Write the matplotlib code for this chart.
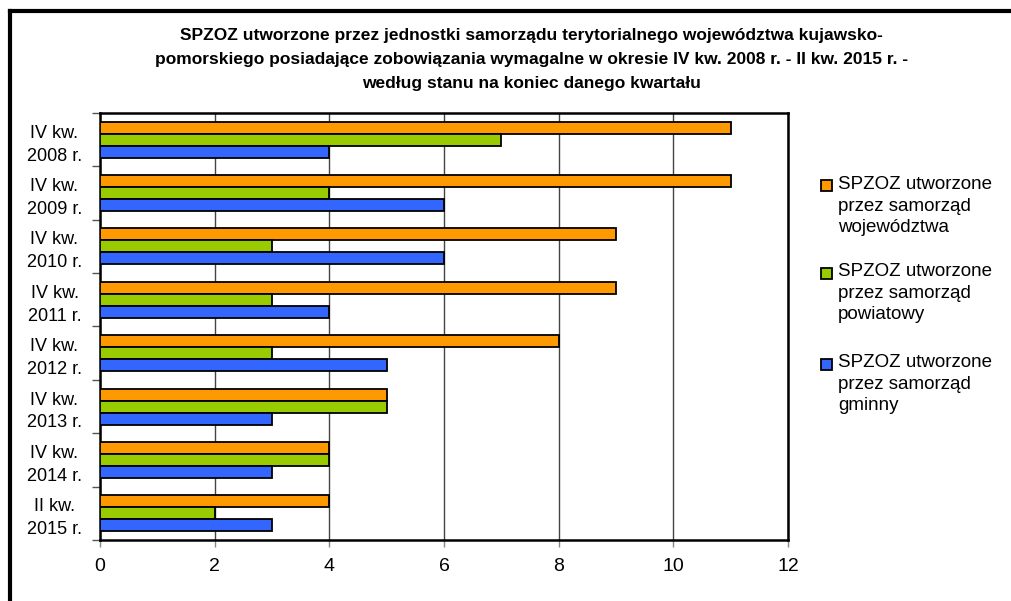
import numpy as np
import matplotlib.pyplot as plt
from matplotlib.lines import Line2D
from matplotlib.patches import Rectangle

periods = ['IV kw.\n2008 r.', 'IV kw.\n2009 r.', 'IV kw.\n2010 r.', 'IV kw.\n2011 r.',
           'IV kw.\n2012 r.', 'IV kw.\n2013 r.', 'IV kw.\n2014 r.', 'II kw.\n2015 r.']
wojewodztwo = [11, 11, 9, 9, 8, 5, 4, 4]
powiat = [7, 4, 3, 3, 3, 5, 4, 2]
gmina = [4, 6, 6, 4, 5, 3, 3, 3]
labels = ['SPZOZ utworzone\nprzez samorząd\nwojewództwa',
          'SPZOZ utworzone\nprzez samorząd\npowiatowy',
          'SPZOZ utworzone\nprzez samorząd\ngminny']
colors = ['#FF9900', '#99CC00', '#3366FF']

plt.rcParams['font.family'] = ['Liberation Sans', 'DejaVu Sans']

fig = plt.figure(figsize=(10.12, 6.01), dpi=100)
ax = fig.add_axes([0.0988, 0.1015, 0.68, 0.7105])

y = np.arange(len(periods))
h = 0.225
for i, (vals, c) in enumerate(zip([wojewodztwo, powiat, gmina], colors)):
    ax.barh(y + (i - 1) * h, vals, height=h, color=c, edgecolor='black',
            linewidth=1.3, label=labels[i], zorder=3)

ax.set_xlim(0, 12)
ax.set_ylim(len(periods) - 0.5, -0.5)
ax.set_xticks(np.arange(0, 13, 2))
ax.set_yticks(y)
ax.set_yticklabels(periods, fontsize=13, linespacing=1.45, multialignment='center')
ax.set_yticks(np.arange(-0.5, len(periods), 1), minor=True)
ax.tick_params(axis='y', which='major', length=0, pad=13)
ax.tick_params(axis='y', which='minor', length=6, width=1, color='#555555', direction='out')
ax.tick_params(axis='x', length=5, width=1, color='#888888', pad=8, labelsize=14)
ax.grid(axis='x', color='#444444', linewidth=1, zorder=0)
for s in ax.spines.values():
    s.set_linewidth(1.8)
    s.set_color('black')

fig.text(0.525, 0.953,
         'SPZOZ utworzone przez jednostki samorządu terytorialnego województwa kujawsko-\n'
         'pomorskiego posiadające zobowiązania wymagalne w okresie IV kw. 2008 r. - II kw. 2015 r. -\n'
         'według stanu na koniec danego kwartału',
         ha='center', va='top', fontsize=12.5, fontweight='bold', linespacing=1.75)

# legend, drawn by hand so the square sits by the first line of each label
leg_top = [186, 273, 364]
for c, lab, yp in zip(colors, labels, leg_top):
    yf = 1 - yp / 601
    fig.add_artist(Rectangle((821 / 1012, yf - 5.5 / 601), 11 / 1012, 11 / 601,
                             facecolor=c, edgecolor='black', linewidth=1.3,
                             transform=fig.transFigure))
    fig.text(838 / 1012, yf + 10 / 601, lab, ha='left', va='top', fontsize=13.5,
             linespacing=1.35)

# frame lines of the outer box (top and left only visible)
fig.add_artist(Line2D([0.0098, 1.0], [0.981, 0.981], color='black', linewidth=3, transform=fig.transFigure))
fig.add_artist(Line2D([0.0098, 0.0098], [0.0, 0.981], color='black', linewidth=3, transform=fig.transFigure))

fig.savefig('out.png', dpi=100)
